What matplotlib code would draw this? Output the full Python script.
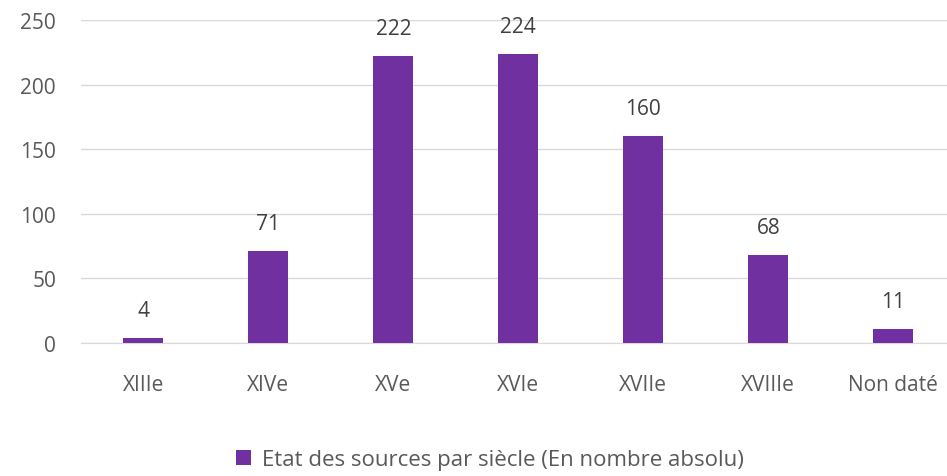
import matplotlib.pyplot as plt
import numpy as np

# Data
siecles = ["XIIIe", "XIVe", "XVe", "XVIe", "XVIIe", "XVIIIe", "Non daté"]
nombres = [4, 71, 222, 224, 160, 68, 11]
serie = "Etat des sources par siècle (En nombre absolu)"

plt.rcParams["font.family"] = ["Open Sans", "DejaVu Sans"]

fig = plt.figure(figsize=(9.47, 4.77), dpi=100)
ax = fig.add_axes([81/947, 133/477, 866/947, 323/477])

x = np.arange(len(siecles))
bars = ax.bar(x, nombres, width=0.32, color="#7030A0", zorder=3, label=serie)
for xi, v in zip(x, nombres):
    ax.text(xi, v + 13, str(v), ha="center", va="bottom",
            fontsize=15, color="#404040")

ax.set_xlim(-0.5, 6.43)
ax.set_ylim(0, 250)
ax.set_yticks(range(0, 251, 50))
ax.set_xticks(x)
ax.set_xticklabels(siecles)
ax.grid(axis="y", color="#D9D9D9", linewidth=1, zorder=0)
for s in ["top", "right", "left"]:
    ax.spines[s].set_visible(False)
ax.spines["bottom"].set_color("#D9D9D9")
ax.tick_params(axis="both", length=0, labelsize=15, colors="#595959")
ax.tick_params(axis="x", pad=22)
ax.tick_params(axis="y", pad=18)

fig.legend(handles=[bars], labels=[serie], loc="center",
           bbox_to_anchor=(490/947, 1 - 461/477), frameon=False,
           fontsize=16, labelcolor="#595959", handlelength=0.65,
           handleheight=0.65, handletextpad=0.5)

fig.savefig("out.png", dpi=100)
